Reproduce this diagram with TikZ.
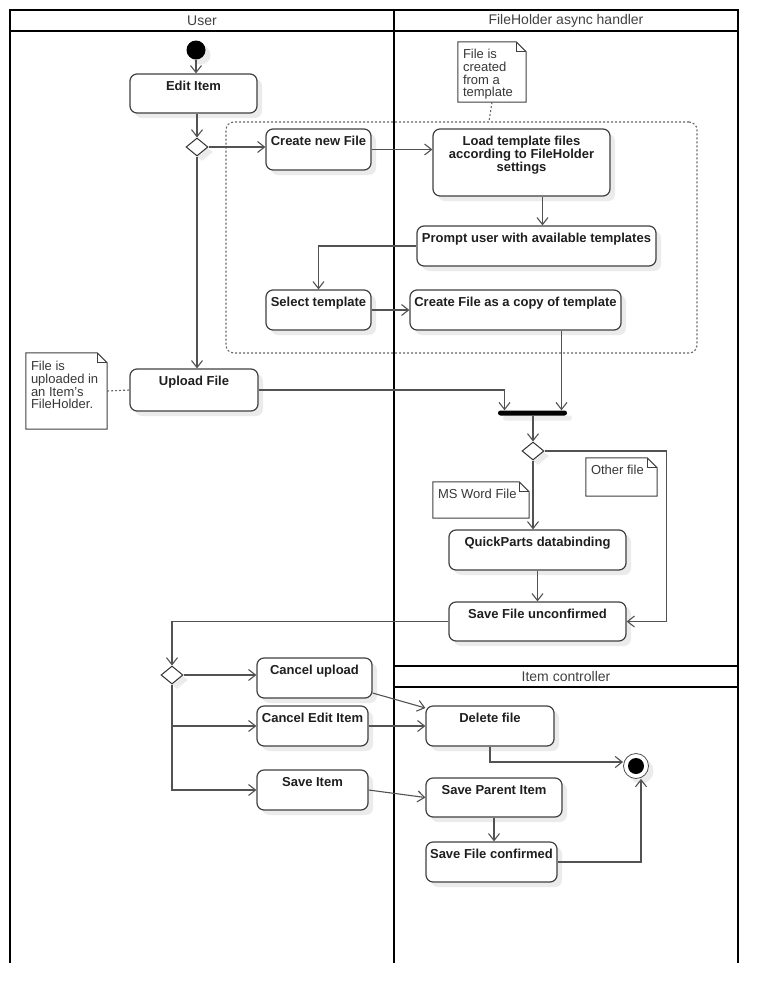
\documentclass[tikz,border=0pt]{standalone}
\usepackage{fontspec}
\setmainfont{Liberation Sans}
\usetikzlibrary{arrows.meta,shadows,fit,calc,shapes.geometric}
\begin{document}
\begin{tikzpicture}[x=1pt,y=-1pt,
  lane/.style={line width=2pt, black, line join=miter},
  hdr/.style={font=\fontsize{14}{14}\selectfont, text=black!75, inner sep=0pt},
  shad/.style={drop shadow={shadow xshift=5pt, shadow yshift=-5pt, fill=black!8, opacity=1}},
  act/.style={draw=black!75, line width=1.2pt, rounded corners=7pt, fill=white, inner sep=0pt, shad},
  lbl/.style={font=\bfseries\fontsize{13}{13}\selectfont, align=center, inner sep=0pt, text=black!88},
  notebox/.style={draw=black!75, line width=1pt, fill=white},
  notetext/.style={font=\fontsize{13}{12.8}\selectfont, align=left, inner sep=0pt, text=black!78, anchor=base west},
  grp/.style={draw=black!60, dash pattern=on 2pt off 2pt, line width=1.1pt, rounded corners=8pt, inner sep=0pt},
  dotline/.style={draw=black!60, dash pattern=on 2pt off 2pt, line width=1.1pt},
  flow/.style={draw=black!68, line width=1.1pt, -{Straight Barb[length=7pt,width=11pt]}},
  dec/.style={diamond, draw=black!80, fill=white, line width=1pt, minimum width=22pt, minimum height=18pt, inner sep=0pt, shad},
]
\useasboundingbox (0,0) rectangle (778,1005);
% #7 = offset of the last line's baseline below the top edge
\newcommand\actnode[7]{%
  \node[act, fit={(#2,#3) (#4,#5)}] (#1) {};
  \node[lbl, anchor=base] (#1-t) at ([yshift=-#7pt]#1.north) {#6};}
\newcommand\notenode[7]{%
  \node[fit={(#2,#3) (#4,#5)}, inner sep=0pt] (#1) {};
  \draw[notebox] (#1.north west) -- ([xshift=-10pt]#1.north east) -- ([yshift=-10pt]#1.north east) -- (#1.south east) -- (#1.south west) -- cycle;
  \draw[notebox, fill=none] ([xshift=-10pt]#1.north east) |- ([yshift=-10pt]#1.north east);
  \node[notetext] (#1-t) at ([xshift=5pt,yshift=-#7pt]#1.north west) {#6};}

% swimlanes
\draw[lane] (10,963) -- (10,10) -- (738,10) -- (738,963);
\draw[lane] (394,10) -- (394,963);
\draw[lane] (10,31) -- (738,31);
\draw[lane] (394,666) -- (738,666);
\draw[lane] (394,687) -- (738,687);
\node[hdr] (hUser) at (202,20.5) {User};
\node[hdr] (hFH) at (566,20.5) {FileHolder async handler};
\node[hdr] (hIC) at (566,676.5) {Item controller};

% group
\node[grp, fit={(226,122) (697,353)}] (grp) {};

% notes
\notenode{ntpl}{458}{42}{526}{102}{File is\\created\\from a\\template}{55}
\notenode{nup}{26}{353}{107}{429}{File is\\uploaded in\\an Item's\\FileHolder.}{56}
\notenode{nother}{586}{458}{657}{496}{Other file}{17}
\notenode{nword}{433}{482}{529}{518}{MS Word File}{17}

% start / end / control nodes
\node[circle, fill=black, minimum size=19pt, inner sep=0pt, shad] (init) at (196,50) {};
\node[dec] (d1) at (197,147) {};
\node[dec] (d2) at (533,451) {};
\node[dec] (d3) at (172,675) {};
\node[fill=black, minimum width=69pt, minimum height=5pt, rounded corners=2.5pt, inner sep=0pt, shad] (bar) at (532.5,413) {};
\node[circle, draw=black!70, line width=0.8pt, fill=white, minimum size=25pt, inner sep=0pt, shad] (final) at (636,766) {};
\node[circle, fill=black, minimum size=16pt, inner sep=0pt] (finalin) at (final) {};

% activities
\actnode{edit}{130}{74}{257}{113}{Edit Item}{17}
\actnode{create}{266}{129}{371}{170}{Create new File}{17}
\actnode{load}{433}{129}{610}{196}{Load template files\\according to FileHolder\\settings}{43}
\actnode{prompt}{417}{226}{656}{266}{Prompt user with available templates}{17}
\actnode{select}{266}{290}{371}{330}{Select template}{17}
\actnode{copy}{410}{290}{621}{330}{Create File as a copy of template}{17}
\actnode{upload}{130}{369}{258}{411}{Upload File}{17}
\actnode{qp}{449}{530}{626}{570}{QuickParts databinding}{17}
\actnode{saveu}{449}{602}{626}{641}{Save File unconfirmed}{17}
\actnode{cancelup}{257}{658}{372}{698}{Cancel upload}{17}
\actnode{canceledit}{257}{706}{368}{746}{Cancel Edit Item}{17}
\actnode{saveitem}{257}{770}{368}{810}{Save Item}{17}
\actnode{delete}{426}{706}{554}{746}{Delete file}{17}
\actnode{sparent}{426}{778}{562}{817}{Save Parent Item}{17}
\actnode{sconf}{426}{842}{557}{882}{Save File confirmed}{17}

% note links
\draw[dotline] (ntpl.south) -- ([xshift=-3pt]ntpl.south |- grp.north);
\draw[dotline] (nup.east) -- (upload.west);

% flows
\draw[flow] (init) -- (init |- edit.north);
\draw[flow] (d1.north |- edit.south) -- (d1.north);
\draw[flow] (d1.east) -- (d1.east -| create.west);
\draw[flow] (d1.south) -- (d1.south |- upload.north);
\draw[flow] (create.east) -- (create.east -| load.west);
\draw[flow] ([xshift=21pt]load.south) -- ([xshift=21pt]load.south |- prompt.north);
\draw[flow] (prompt.west) -| (select.north);
\draw[flow] (select.east) -- (copy.west);
\draw[flow] ([xshift=46pt]copy.south) -- ([xshift=46pt]copy.south |- bar.north);
\draw[flow] (upload.east) -| ([xshift=-28pt]bar.north);
\draw[flow] (bar.south -| d2.north) -- (d2.north);
\draw[flow] (d2.south) -- (d2.south |- qp.north);
\draw[flow] (qp.south) -- (saveu.north);
\draw[flow] (d2.east) -- ++(122,0) |- (saveu.east);
\draw[flow] (saveu.west) -| (d3.north);
\draw[flow] (d3.east) -- (d3.east -| cancelup.west);
\draw[flow] (d3.south) |- (canceledit.west);
\draw[flow] (d3.south) |- (saveitem.west);
\draw[flow] ([yshift=-15pt]cancelup.east) -- ([yshift=18pt]delete.west);
\draw[flow] (canceledit.east) -- (canceledit.east -| delete.west);
\draw[flow] (delete.south) |- ([yshift=4pt]final.west);
\draw[flow] (saveitem.east) -- (sparent.west);
\draw[flow] (sparent.south) -- (sparent.south |- sconf.north);
\draw[flow] (sconf.east) -| ([xshift=5pt]final.south);
\end{tikzpicture}
\end{document}
